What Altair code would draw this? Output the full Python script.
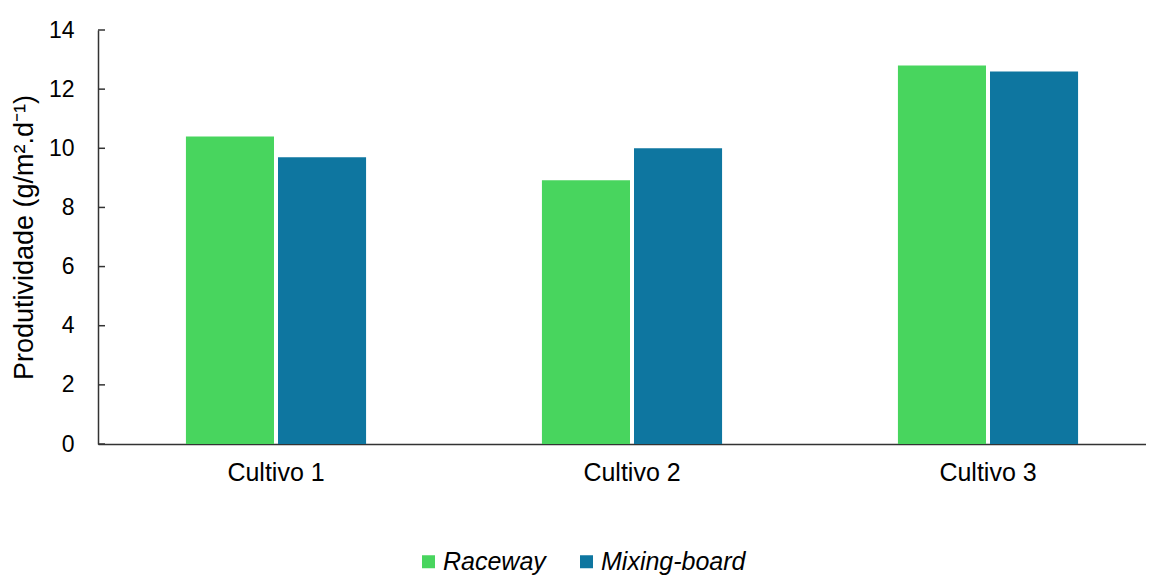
import altair as alt
import pandas as pd

categories = ["Cultivo 1", "Cultivo 2", "Cultivo 3"]
series = ["Raceway", "Mixing-board"]
raceway = [10.4, 8.92, 12.8]
mixing = [9.7, 10.0, 12.6]
y_ticks = [0, 2, 4, 6, 8, 10, 12, 14]
colors = ["#48D55E", "#0E76A0"]

rows = []
for c, r, m in zip(categories, raceway, mixing):
    rows.append({"cultivo": c, "sistema": "Raceway", "valor": r})
    rows.append({"cultivo": c, "sistema": "Mixing-board", "valor": m})
df = pd.DataFrame(rows)
ticks_df = pd.DataFrame({"v": y_ticks})

FONT = "Liberation Sans"

yscale = alt.Scale(domain=[0, 14], nice=False, zero=True)
y_axis = alt.Axis(values=y_ticks, grid=False, tickSize=0, labelPadding=24,
                  labelFontSize=23, labelColor="#000000", labelFont=FONT,
                  domainColor="#333333", domainWidth=1.5,
                  title="Produtividade (g/m².d⁻¹)", titleFontSize=27,
                  titleFontWeight="normal", titleFont=FONT, titleColor="#000000",
                  titlePadding=10)

bars = alt.Chart(df).mark_bar().encode(
    x=alt.X("cultivo:N", sort=categories,
            scale=alt.Scale(range=[0, 1068], paddingInner=0.494, paddingOuter=0.247),
            axis=alt.Axis(title=None, labelAngle=0, ticks=False, labelFontSize=25,
                          labelPadding=16, domainColor="#333333", domainWidth=1.5,
                          labelColor="#000000", labelFont=FONT, grid=False)),
    xOffset=alt.XOffset("sistema:N", sort=series,
                        scale=alt.Scale(paddingInner=0.0435, paddingOuter=0)),
    y=alt.Y("valor:Q", scale=yscale, axis=y_axis),
    color=alt.Color("sistema:N", sort=series,
                    scale=alt.Scale(domain=series, range=colors),
                    legend=alt.Legend(title=None, orient="none", direction="horizontal",
                                      legendX=318, legendY=519,
                                      symbolType="square", symbolSize=169,
                                      symbolStrokeWidth=0, labelFontSize=25,
                                      labelFontStyle="italic", labelFont=FONT,
                                      labelColor="#000000", labelOffset=2,
                                      columnPadding=28)),
)

tick_marks = alt.Chart(ticks_df).mark_rule(color="#333333", strokeWidth=1.5).encode(
    y=alt.Y("v:Q", scale=yscale, axis=y_axis),
    x=alt.value(0),
    x2=alt.value(7),
)

chart = alt.layer(bars, tick_marks).properties(
    width=1048,
    height=414,
    background="#ffffff",
    autosize=alt.AutoSizeParams(type="none"),
    padding={"left": 90, "top": 22, "right": 0, "bottom": 133},
).configure_view(strokeWidth=0, stroke="transparent")

chart.save("out.html", embed_options={"renderer": "svg", "actions": False})
